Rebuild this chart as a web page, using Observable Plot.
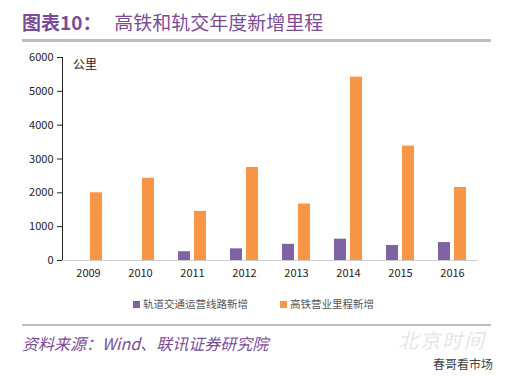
<!DOCTYPE html>
<html><head><meta charset="utf-8">
<script src="https://cdn.jsdelivr.net/npm/d3@7"></script>
<script src="https://cdn.jsdelivr.net/npm/@observablehq/plot@0.6"></script>
<style>
body{margin:0;background:#fff;width:514px;height:376px;position:relative;overflow:hidden;font-family:"Noto Sans CJK SC","Noto Sans",sans-serif;}
.abs{position:absolute;white-space:nowrap;}
#title{left:22px;top:9px;font-size:19px;color:#7a4c96;line-height:26px;}
#title b{font-weight:bold;}
.rule{position:absolute;left:22px;width:469px;background:#bdbdbd;}
#unit{left:73px;top:55px;font-size:12px;color:#222;}
#legend{left:0;top:296px;width:514px;font-size:10.5px;color:#555;}
.sw{display:inline-block;width:7px;height:7px;margin-right:3px;vertical-align:0px;}
#source{left:22px;top:331px;font-size:16px;color:#7a4c96;font-style:italic;}
#wm1{left:398px;top:330px;font-size:20px;line-height:20px;color:#e6e6e6;font-style:italic;letter-spacing:2px;}
#wm2{left:433px;top:357px;font-size:12px;line-height:14px;color:#444;}
#chart{position:absolute;left:0;top:45px;}
</style></head>
<body>
<div id="title" class="abs"><b>图表10：</b>&nbsp;&nbsp;&nbsp;高铁和轨交年度新增里程</div>
<div class="rule" style="top:39px;height:3px;"></div>
<div id="chart"></div>
<div id="unit" class="abs">公里</div>
<div id="legend" class="abs"></div>
<div class="rule" style="top:324px;height:2px;"></div>
<div id="source" class="abs">资料来源：Wind、联讯证券研究院</div>
<div id="wm1" class="abs">北京时间</div>
<div id="wm2" class="abs">春哥看市场</div>
<script>
const years = ["2009","2010","2011","2012","2013","2014","2015","2016"];
const railTransit = [null, null, 260, 345, 480, 630, 445, 530];
const highSpeedRail = [2000, 2430, 1450, 2750, 1670, 5420, 3380, 2160];
const seriesNames = ["轨道交通运营线路新增", "高铁营业里程新增"];
const seriesColors = ["#7f62a2", "#f79646"];
const yTicks = [0, 1000, 2000, 3000, 4000, 5000, 6000];

const rows = [];
years.forEach((y, i) => {
  if (railTransit[i] != null) rows.push({year: y, series: seriesNames[0], value: railTransit[i]});
  rows.push({year: y, series: seriesNames[1], value: highSpeedRail[i]});
});

const chart = Plot.plot({
  width: 514,
  height: 245,
  marginTop: 12,
  marginBottom: 30,
  marginLeft: 62,
  marginRight: 36,
  style: {fontFamily: '"Noto Sans CJK SC","Noto Sans",sans-serif', fontSize: "11px", color: "#222", background: "transparent"},
  fx: {domain: years, paddingInner: 0, paddingOuter: 0, label: null, axis: "bottom", tickSize: 0, tickPadding: 9},
  x: {domain: seriesNames, paddingInner: 0.25, paddingOuter: 0.75, axis: null},
  y: {domain: [0, 6000], ticks: yTicks, tickFormat: d3.format("d"), tickSize: 5, tickPadding: 4, line: true, label: null, grid: false},
  color: {domain: seriesNames, range: seriesColors},
  marks: [
    Plot.ruleY([0], {stroke: "#d0d0d0", strokeWidth: 1}),
    Plot.barY(rows, {fx: "year", x: "series", y: "value", fill: "series"})
  ]
});
document.getElementById("chart").appendChild(chart);

const leg = document.getElementById("legend");
leg.innerHTML = `<span style="position:absolute;left:133px;"><span class="sw" style="background:${seriesColors[0]}"></span>${seriesNames[0]}</span>` +
  `<span style="position:absolute;left:280px;"><span class="sw" style="background:${seriesColors[1]}"></span>${seriesNames[1]}</span>`;
</script>
</body></html>
